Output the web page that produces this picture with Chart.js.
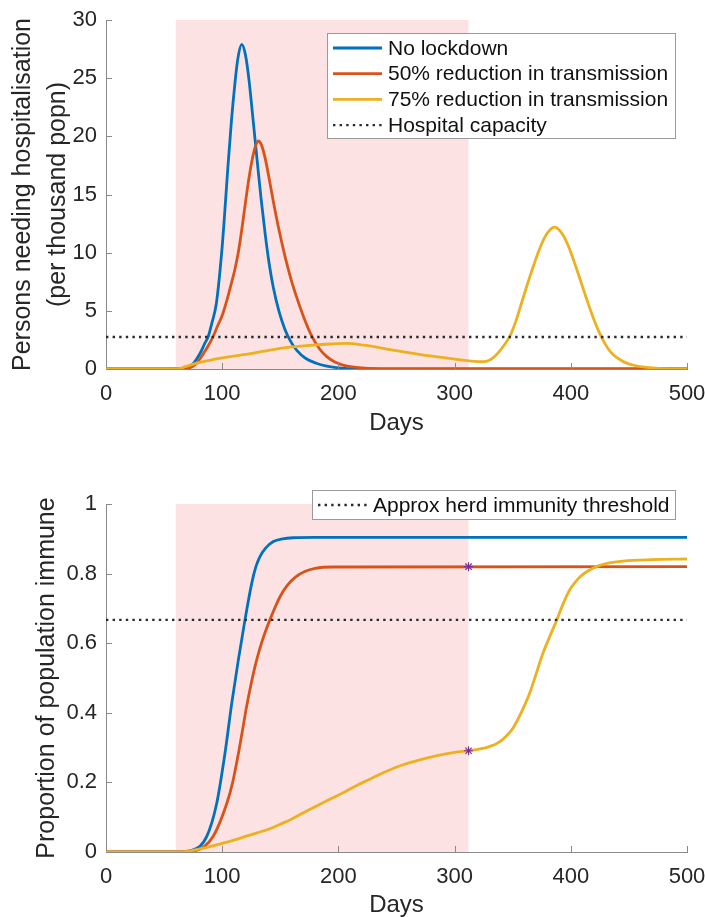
<!DOCTYPE html>
<html>
<head>
<meta charset="utf-8">
<title>Lockdown scenarios</title>
<script src="https://cdn.jsdelivr.net/npm/chart.js@4.4.1/dist/chart.umd.min.js"></script>
<style>
  body { margin: 0; background: #fff; }
  canvas { display: block; }
</style>
</head>
<body>
<canvas id="hosp-chart" width="705" height="445"></canvas>
<canvas id="immune-chart" width="705" height="472"></canvas>
<script>
// =============================
// Data
// =============================

// lockdown window (days)
const lockdownStart = 60;
const lockdownEnd = 312;

const dayTicks = [0, 100, 200, 300, 400, 500];

// Top panel: persons needing hospitalisation (per thousand popn)
const noLockdownDays = [0, 60, 70, 75, 81, 85, 88, 91, 95, 99.5, 102, 105, 108, 111, 113.5, 116.8, 120, 123, 126.5, 130, 133.5, 137, 140.5, 144, 149, 154, 159, 164, 172, 181, 190, 200, 215, 230, 500];
const noLockdownHosp = [0, 0, 0.1, 0.45, 1.35, 2.2, 2.8, 3.9, 5.65, 9.95, 13.2, 17.5, 21.4, 24.6, 26.7, 27.9, 27.0, 24.9, 21.5, 18.0, 14.6, 11.6, 9.0, 7.0, 4.9, 3.4, 2.35, 1.63, 0.9, 0.49, 0.25, 0.1, 0.02, 0, 0];

const halfDays = [0, 60, 72, 78, 84, 88, 92, 96, 100, 104, 108, 111, 114, 117, 120, 123, 126, 128.5, 131, 134, 137, 140, 144, 149, 154, 159, 164, 170, 177, 184, 190, 197, 204, 212, 220, 240, 500];
const halfHosp = [0, 0, 0.1, 0.5, 1.35, 2.0, 2.75, 3.7, 4.6, 5.9, 7.4, 8.6, 10.1, 12.1, 14.3, 16.4, 18.1, 19.1, 19.6, 19.2, 18.1, 16.6, 14.4, 11.9, 9.7, 7.8, 6.2, 4.5, 2.85, 1.7, 1.06, 0.6, 0.34, 0.18, 0.1, 0, 0];

const quarterDays = [0, 60, 64, 68, 74, 80, 90, 100, 120, 141, 160, 178, 193, 207, 222, 250, 279, 307, 322, 328, 333, 338, 343, 348, 353, 358, 363, 368, 373, 378, 382, 386, 390, 394, 399, 404, 409, 414, 419, 424, 429, 434, 440, 447, 455, 465, 480, 500];
const quarterHosp = [0, 0, 0.05, 0.2, 0.38, 0.55, 0.77, 0.95, 1.25, 1.63, 1.9, 2.06, 2.15, 2.2, 2.05, 1.58, 1.12, 0.77, 0.63, 0.68, 0.95, 1.45, 2.1, 2.9, 4.2, 5.8, 7.4, 8.9, 10.3, 11.4, 11.95, 12.2, 11.95, 11.4, 10.3, 8.9, 7.4, 5.9, 4.5, 3.25, 2.25, 1.5, 0.95, 0.55, 0.3, 0.14, 0.04, 0];

const hospitalCapacity = 2.75;

// Bottom panel: proportion of population immune
const noLockdownImmDays = [0, 60, 75, 86.6, 95.3, 102.4, 108.2, 113.9, 119.6, 125.4, 129, 132.5, 137, 144, 152, 161, 180, 500];
const noLockdownImmune = [0, 0, 0.006, 0.044, 0.14, 0.284, 0.427, 0.552, 0.667, 0.772, 0.82, 0.849, 0.872, 0.892, 0.9, 0.903, 0.904, 0.904];

const halfImmDays = [0, 60, 76, 92, 104, 109, 114, 118, 121, 125, 128, 132, 136.5, 141, 145.5, 150, 156, 163, 171, 180, 195, 500];
const halfImmune = [0, 0, 0.003, 0.044, 0.14, 0.2, 0.284, 0.36, 0.418, 0.485, 0.53, 0.58, 0.627, 0.667, 0.703, 0.735, 0.766, 0.79, 0.806, 0.815, 0.819, 0.82];

const quarterImmDays = [0, 64, 70, 80, 90, 100, 110, 120, 130, 141, 150, 160, 170, 180, 193, 205, 215, 225, 240, 255, 270, 285, 300, 312, 322, 330, 338, 345, 350, 355, 360, 365, 370, 376, 382, 388, 393, 399, 404, 408, 414, 422, 432, 445, 470, 500];
const quarterImmune = [0, 0, 0.002, 0.008, 0.016, 0.025, 0.034, 0.045, 0.055, 0.067, 0.08, 0.095, 0.113, 0.13, 0.152, 0.172, 0.19, 0.206, 0.23, 0.25, 0.265, 0.277, 0.286, 0.291, 0.296, 0.303, 0.315, 0.335, 0.355, 0.385, 0.42, 0.46, 0.51, 0.571, 0.62, 0.667, 0.71, 0.753, 0.776, 0.791, 0.806, 0.82, 0.83, 0.836, 0.84, 0.842];

// lockdown-end markers
const markerDays = [312, 312];
const markerImmune = [0.82, 0.291];

const herdThreshold = 0.667;

// =============================
// Styling helpers
// =============================
const FONT = "'Liberation Sans', Arial, Helvetica, sans-serif";
const BLUE = '#0072BD';
const RED = '#D95319';
const YELLOW = '#EDB120';
const PURPLE = '#7E2F8E';
const DOT = '#2a2a2a';
const AXIS = '#8a8a8a';
const TEXT = '#262626';

const pts = (xs, ys) => xs.map((x, i) => ({ x: x, y: ys[i] }));

function curve(label, xs, ys, color, order) {
    return {
        label: label,
        data: pts(xs, ys),
        borderColor: color,
        borderWidth: 2.8,
        pointRadius: 0,
        cubicInterpolationMode: 'monotone',
        fill: false,
        order: order
    };
}

function flatLine(label, value, order) {
    return {
        label: label,
        data: pts([dayTicks[0], dayTicks[dayTicks.length - 1]], [value, value]),
        borderColor: DOT,
        borderWidth: 2.4,
        borderDash: [2.4, 4.2],
        pointRadius: 0,
        fill: false,
        order: order
    };
}

// pink lockdown band, drawn under everything
const lockdownShade = {
    id: 'lockdownShade',
    beforeDraw(chart) {
        const { ctx, chartArea, scales } = chart;
        const x0 = scales.x.getPixelForValue(lockdownStart);
        const x1 = scales.x.getPixelForValue(lockdownEnd);
        ctx.save();
        ctx.fillStyle = 'rgb(253, 226, 228)';
        ctx.fillRect(x0, chartArea.top, x1 - x0, chartArea.bottom - chartArea.top);
        ctx.restore();
    }
};

// MATLAB style ticks pointing into the plot
const inwardTicks = {
    id: 'inwardTicks',
    afterDatasetsDraw(chart) {
        const { ctx, chartArea, scales } = chart;
        ctx.save();
        ctx.strokeStyle = AXIS;
        ctx.lineWidth = 1;
        ctx.beginPath();
        scales.x.ticks.forEach(t => {
            if (t.value === scales.x.min) return;
            const px = Math.round(scales.x.getPixelForValue(t.value)) + 0.5;
            ctx.moveTo(px, chartArea.bottom);
            ctx.lineTo(px, chartArea.bottom - 6);
        });
        scales.y.ticks.forEach(t => {
            if (t.value === scales.y.min) return;
            const py = Math.round(scales.y.getPixelForValue(t.value)) + 0.5;
            ctx.moveTo(chartArea.left, py);
            ctx.lineTo(chartArea.left + 6, py);
        });
        ctx.stroke();
        ctx.restore();
    }
};

// boxed legend like the MATLAB one
const boxLegend = {
    id: 'boxLegend',
    afterDraw(chart, args, opts) {
        if (!opts.box) return;
        const ctx = chart.ctx;
        const b = opts.box;
        ctx.save();
        ctx.fillStyle = '#fff';
        ctx.fillRect(b.x, b.y, b.w, b.h);
        ctx.strokeStyle = '#9a9a9a';
        ctx.lineWidth = 1;
        ctx.strokeRect(b.x + 0.5, b.y + 0.5, b.w, b.h);
        ctx.font = '21px ' + FONT;
        ctx.textBaseline = 'middle';
        ctx.fillStyle = '#111';
        opts.items.forEach((item, i) => {
            const y = opts.firstRow + i * opts.rowGap;
            ctx.beginPath();
            ctx.strokeStyle = item.color;
            ctx.lineWidth = item.dash ? 2.4 : 2.8;
            ctx.setLineDash(item.dash ? [2.4, 4.2] : []);
            ctx.moveTo(opts.sampleX0, y);
            ctx.lineTo(opts.sampleX1, y);
            ctx.stroke();
            ctx.setLineDash([]);
            ctx.fillText(item.text, opts.textX, y + 1);
        });
        ctx.restore();
    }
};

// strip the label overflow padding so the layout padding alone places the plot box
function noOverflow(scale) {
    scale.paddingLeft = 0;
    scale.paddingRight = 0;
    scale.paddingTop = 0;
    scale.paddingBottom = 0;
}

function axes(yMax, yStep, yTitle, yTitlePad, yTitleLineHeight, xHeight, daysPad) {
    return {
        x: {
            type: 'linear',
            min: dayTicks[0],
            max: dayTicks[dayTicks.length - 1],
            afterBuildTicks: (scale) => { scale.ticks = dayTicks.map(v => ({ value: v })); },
            afterFit: (scale) => { scale.height = xHeight; noOverflow(scale); },
            grid: { drawOnChartArea: false, drawTicks: false },
            border: { color: AXIS, width: 1 },
            ticks: { color: TEXT, font: { family: FONT, size: 22 }, padding: 12, maxRotation: 0 },
            title: {
                display: true,
                text: 'Days',
                color: TEXT,
                font: { family: FONT, size: 24, lineHeight: 1 },
                padding: { top: 0, bottom: daysPad }
            }
        },
        y: {
            min: 0,
            max: yMax,
            afterFit: (scale) => { scale.width = 106; noOverflow(scale); },
            grid: { drawOnChartArea: false, drawTicks: false },
            border: { color: AXIS, width: 1 },
            ticks: {
                stepSize: yStep,
                color: TEXT,
                font: { family: FONT, size: 22 },
                padding: 9,
                callback: (v) => String(Number(v.toFixed(2)))
            },
            title: {
                display: true,
                text: yTitle,
                color: TEXT,
                font: { family: FONT, size: 25, lineHeight: yTitleLineHeight },
                padding: { top: yTitlePad, bottom: 0 }
            }
        }
    };
}

// =============================
// Top panel: hospitalisation
// =============================
new Chart(document.getElementById('hosp-chart'), {
    type: 'line',
    data: {
        datasets: [
            flatLine('Hospital capacity', hospitalCapacity, 0),
            curve('75% reduction in transmission', quarterDays, quarterHosp, YELLOW, 1),
            curve('50% reduction in transmission', halfDays, halfHosp, RED, 2),
            curve('No lockdown', noLockdownDays, noLockdownHosp, BLUE, 3)
        ]
    },
    options: {
        responsive: false,
        animation: false,
        layout: { padding: { top: 20, right: 18, bottom: 0, left: 0 } },
        scales: axes(30, 5, ['Persons needing hospitalisation', '(per thousand popn)'], 5.5, 1.4, 76, 10),
        plugins: {
            legend: { display: false },
            tooltip: { enabled: false },
            boxLegend: {
                box: { x: 327, y: 33, w: 348, h: 105 },
                sampleX0: 333, sampleX1: 382, textX: 388,
                firstRow: 48, rowGap: 25.7,
                items: [
                    { text: 'No lockdown', color: BLUE },
                    { text: '50% reduction in transmission', color: RED },
                    { text: '75% reduction in transmission', color: YELLOW },
                    { text: 'Hospital capacity', color: DOT, dash: true }
                ]
            }
        }
    },
    plugins: [lockdownShade, inwardTicks, boxLegend]
});

// =============================
// Bottom panel: immunity
// =============================
new Chart(document.getElementById('immune-chart'), {
    type: 'line',
    data: {
        datasets: [
            {
                label: 'Lockdown end',
                data: pts(markerDays, markerImmune),
                showLine: false,
                pointStyle: 'star',
                pointRadius: 4.5,
                pointBorderWidth: 1.2,
                pointBorderColor: PURPLE,
                pointBackgroundColor: PURPLE,
                order: 0
            },
            flatLine('Approx herd immunity threshold', herdThreshold, 1),
            curve('75% reduction in transmission', quarterImmDays, quarterImmune, YELLOW, 2),
            curve('50% reduction in transmission', halfImmDays, halfImmune, RED, 3),
            curve('No lockdown', noLockdownImmDays, noLockdownImmune, BLUE, 4)
        ]
    },
    options: {
        responsive: false,
        animation: false,
        layout: { padding: { top: 59, right: 18, bottom: 0, left: 0 } },
        scales: axes(1, 0.2, 'Proportion of population immune', 32, 1.2, 65, 0),
        plugins: {
            legend: { display: false },
            tooltip: { enabled: false },
            boxLegend: {
                box: { x: 312, y: 45, w: 363, h: 29 },
                sampleX0: 318, sampleX1: 370, textX: 373,
                firstRow: 60, rowGap: 0,
                items: [
                    { text: 'Approx herd immunity threshold', color: DOT, dash: true }
                ]
            }
        }
    },
    plugins: [lockdownShade, inwardTicks, boxLegend]
});
</script>
</body>
</html>
